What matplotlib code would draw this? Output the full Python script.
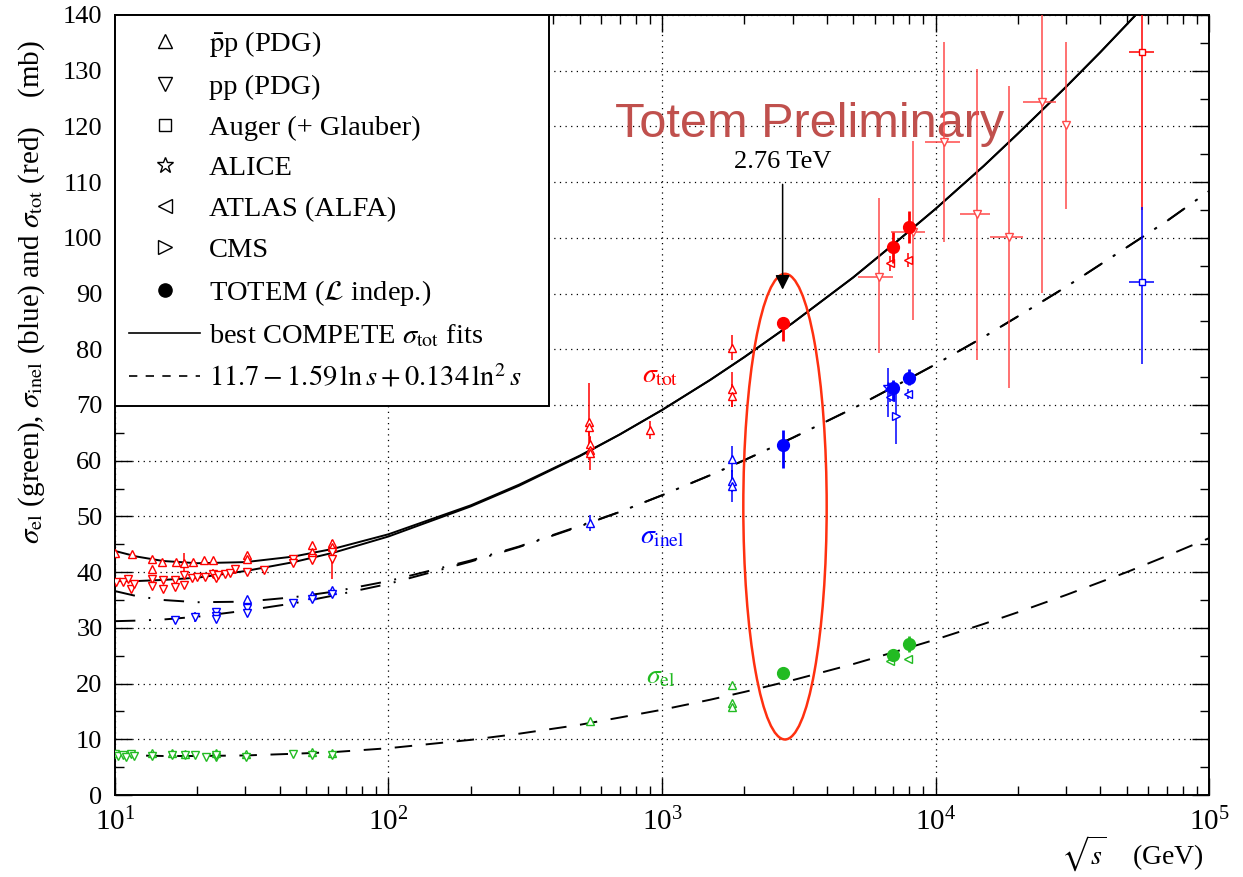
import matplotlib.pyplot as plt
from matplotlib.lines import Line2D
from matplotlib.patches import Ellipse
from matplotlib.ticker import MultipleLocator, LogLocator, LogFormatterMathtext, NullFormatter

plt.rcParams['font.family'] = ['Liberation Serif', 'DejaVu Serif']
plt.rcParams['mathtext.fontset'] = 'stix'

# colours
RED = '#ff0000'
LRED = '#ff4a4a'
BLUE = '#0000ff'
GREEN = '#22bb22'

# ---- fit curves ----
x_tot_fit = [10, 12, 15, 20, 30, 45, 63, 100, 200, 300, 500, 700, 1000, 1500, 2000,
             3000, 5000, 7000, 10000, 15000, 20000, 30000, 40000, 50000, 60000]
tot_fit_pbarp = [43.8, 42.8, 42.0, 41.6, 41.8, 42.8, 44.2, 46.8, 52.0, 55.7, 60.9, 64.7, 69.1, 74.5, 78.6,
                 84.7, 92.9, 98.8, 105.2, 112.9, 118.7, 127.1, 133.3, 138.3, 142.4]
tot_fit_pp = [38.4, 38.4, 38.6, 39.0, 40.2, 41.8, 43.5, 46.4, 51.8, 55.5, 60.8, 64.7, 69.1, 74.5, 78.6,
              84.7, 92.9, 98.8, 105.2, 112.9, 118.7, 127.1, 133.3, 138.3, 142.4]

x_fit = [10, 12, 15, 20, 30, 45, 63, 100, 200, 300, 500, 700, 1000, 1500, 2000,
         3000, 5000, 7000, 10000, 15000, 20000, 30000, 50000, 70000, 100000]
inel_fit_pbarp = [36.6, 35.7, 35.0, 34.6, 34.7, 35.5, 36.5, 38.4, 42.1, 44.6, 48.3, 50.8, 53.8, 57.4, 60.1,
                  64.1, 69.4, 73.2, 77.3, 82.2, 85.9, 91.2, 98.3, 103.0, 108.4]
inel_fit_pp = [31.2, 31.3, 31.5, 32.0, 33.1, 34.4, 35.8, 37.9, 41.9, 44.5, 48.2, 50.8, 53.8, 57.4, 60.1,
               64.1, 69.4, 73.2, 77.3, 82.2, 85.9, 91.2, 98.3, 103.0, 108.4]
el_fit = [7.2, 7.1, 7.0, 7.0, 7.1, 7.4, 7.7, 8.4, 9.9, 11.0, 12.6, 13.9, 15.3, 17.1, 18.5,
          20.6, 23.5, 25.6, 27.9, 30.7, 32.8, 35.9, 40.0, 42.9, 46.1]

# ---- PDG data ----
tot_pbarp_x = [10.0, 11.5, 13.7, 13.7, 14.9, 16.7, 17.9, 19.3, 21.2, 22.8, 30.4, 30.4, 52.5, 52.5, 62.4, 62.4,
               541, 541, 546, 546, 546, 900, 1800, 1800, 1800]
tot_pbarp_y = [43.5, 43.2, 42.4, 40.5, 41.9, 41.9, 41.7, 41.8, 42.1, 42.1, 43.0, 42.3, 44.9, 43.7, 45.3, 44.5,
               67.0, 66.0, 63.0, 62.0, 61.3, 65.5, 80.3, 72.8, 71.7]
tot_pbarp_err = [0.3, 0.3, 0.3, 0.4, 0.3, 0.3, 1.7, 0.3, 0.3, 0.3, 0.3, 0.3, 0.4, 0.4, 0.4, 0.4,
                 6.9, 1.5, 1.5, 1.5, 3.0, 1.6, 2.2, 3.1, 2.0]

tot_pp_x = [10.1, 10.7, 11.2, 11.4, 11.7, 13.6, 13.6, 15.0, 15.0, 16.6, 16.6, 17.9, 17.9, 19.2, 20.0,
            21.3, 22.9, 23.4, 23.9, 25.3, 26.3, 27.5, 30.4, 35.0, 44.6, 44.6, 52.5, 52.5, 62.4, 62.4]
tot_pp_y = [38.3, 38.3, 38.8, 36.9, 37.8, 38.7, 37.5, 38.6, 36.9, 38.6, 37.4, 39.5, 37.7, 38.9, 39.2,
            39.2, 39.7, 38.9, 39.5, 39.7, 39.8, 40.5, 40.1, 40.4, 42.3, 41.7, 42.5, 42.1, 43.7, 42.3]
tot_pp_err = [0.3, 0.3, 0.3, 0.5, 0.4, 0.4, 0.5, 0.3, 0.5, 0.3, 0.5, 0.6, 0.5, 0.3, 0.3,
              0.3, 0.8, 0.3, 0.3, 0.3, 0.3, 0.8, 0.3, 0.3, 0.3, 0.3, 0.3, 0.3, 0.3, 3.5]

inel_pbarp_x = [30.3, 52.5, 62.4, 546, 1800, 1800, 1800]
inel_pbarp_y = [35.1, 35.9, 36.8, 48.8, 60.3, 56.3, 55.5]
inel_pbarp_err = [0.3, 0.3, 0.3, 1.5, 2.4, 2.0, 2.9]

inel_pp_x = [16.6, 19.6, 23.5, 23.5, 23.5, 30.3, 30.3, 44.6, 52.5, 62.4]
inel_pp_y = [31.4, 31.9, 32.8, 32.2, 31.5, 33.5, 32.7, 34.4, 35.1, 36.1]
inel_pp_err = [0.3, 0.9, 0.4, 0.4, 0.4, 0.3, 0.3, 0.3, 0.3, 0.3]

el_pbarp_x = [13.6, 16.2, 18.1, 23.5, 30.1, 52.5, 62.4, 546, 1800, 1800, 1800]
el_pbarp_y = [7.5, 7.5, 7.3, 7.6, 7.4, 7.8, 7.6, 13.2, 19.7, 16.5, 15.8]

el_pp_x = [10.0, 10.3, 10.7, 11.0, 11.4, 11.7, 13.6, 16.2, 18.1, 19.6, 21.6, 23.5, 23.5, 30.1, 44.6, 52.5, 62.4]
el_pp_y = [7.3, 7.0, 7.2, 6.9, 7.3, 7.0, 7.0, 7.1, 7.1, 7.1, 6.8, 6.8, 7.2, 6.8, 7.4, 7.2, 7.2]

# ---- LHC ----
totem_x = [2760, 7000, 8000]
totem_tot = [84.7, 98.3, 102.0]
totem_tot_lo = [3.3, 2.8, 2.9]
totem_tot_hi = [0.8, 2.8, 2.9]
totem_inel = [62.9, 73.0, 74.8]
totem_inel_lo = [4.2, 2.1, 1.2]
totem_inel_hi = [2.6, 1.5, 1.6]
totem_el = [21.9, 25.1, 27.1]
totem_el_err = [1.1, 1.1, 1.4]

atlas_x = [6830, 7960]
atlas_tot = [95.4, 96.0]
atlas_inel = [71.4, 71.9]
atlas_el = [24.1, 24.4]

alice_x = [6700]
alice_inel = [73.3]
alice_lo = [5.4]
alice_hi = [3.3]

cms_x = [7180]
cms_inel = [68.0]
cms_lo = [5.0]
cms_hi = [5.3]

# ---- cosmic rays ----
cosmic_x = [6200, 8260, 10740, 14120, 18600, 24550, 30000]
cosmic_y = [93.0, 101.1, 117.2, 104.2, 100.2, 124.3, 120.2]
cosmic_xlo = [990, 1360, 1580, 1820, 2800, 3690, 0]
cosmic_xhi = [800, 890, 1560, 1680, 2260, 3050, 0]
cosmic_ylo = [13.7, 15.8, 17.9, 26.1, 27.2, 34.2, 15.1]
cosmic_yhi = [14.1, 16.2, 18.0, 26.1, 27.1, 34.0, 15.0]

auger_x = [57000]
auger_xlo = [6000]
auger_xhi = [5800]
auger_tot = [133.3]
auger_tot_lo = [28.3]
auger_tot_hi = [20.0]
auger_inel = [92.1]
auger_inel_lo = [14.8]
auger_inel_hi = [13.5]

fig = plt.figure(figsize=(12.43, 8.77), dpi=100)
ax = fig.add_axes([0.0925, 0.0935, 0.8802, 0.8894])

# fit curves
ax.plot(x_tot_fit, tot_fit_pbarp, color='black', lw=1.4)
ax.plot(x_tot_fit, tot_fit_pp, color='black', lw=1.4)
ax.plot(x_fit, inel_fit_pbarp, color='black', lw=1.4, dashes=(10.5, 7, 1, 7))
ax.plot(x_fit, inel_fit_pp, color='black', lw=1.4, dashes=(10.5, 7, 1, 7))
ax.plot(x_fit, el_fit, color='black', lw=1.4, dashes=(9, 7))

# open markers with error bars
def opn(x, y, yerr, mk, col, ms=5.5, xerr=None):
    ax.errorbar(x, y, yerr=yerr, xerr=xerr, fmt=mk, mfc='white', mec=col, ecolor=col,
                ms=ms, mew=1.0, elinewidth=1.1, capsize=0, zorder=4)

opn(tot_pbarp_x, tot_pbarp_y, tot_pbarp_err, '^', RED)
opn(tot_pp_x, tot_pp_y, tot_pp_err, 'v', RED)
opn(inel_pbarp_x, inel_pbarp_y, inel_pbarp_err, '^', BLUE)
opn(inel_pp_x, inel_pp_y, inel_pp_err, 'v', BLUE)
opn(el_pbarp_x, el_pbarp_y, None, '^', GREEN)
opn(el_pp_x, el_pp_y, None, 'v', GREEN)

opn(cosmic_x, cosmic_y, [cosmic_ylo, cosmic_yhi], 'v', LRED, xerr=[cosmic_xlo, cosmic_xhi])
opn(auger_x, auger_tot, [auger_tot_lo, auger_tot_hi], 's', RED, ms=4.5, xerr=[auger_xlo, auger_xhi])
opn(auger_x, auger_inel, [auger_inel_lo, auger_inel_hi], 's', BLUE, ms=4.5, xerr=[auger_xlo, auger_xhi])

opn(atlas_x, atlas_tot, 1.3, '<', RED)
opn(atlas_x, atlas_inel, 0.9, '<', BLUE)
opn(atlas_x, atlas_el, 0.4, '<', GREEN)
opn(alice_x, alice_inel, [alice_lo, alice_hi], '*', BLUE, ms=7)
opn(cms_x, cms_inel, [cms_lo, cms_hi], '>', BLUE)

# TOTEM filled points
ax.errorbar(totem_x, totem_tot, yerr=[totem_tot_lo, totem_tot_hi], fmt='o', color=RED, ms=8.5,
            elinewidth=2, capsize=0, zorder=5)
ax.errorbar(totem_x, totem_inel, yerr=[totem_inel_lo, totem_inel_hi], fmt='o', color=BLUE, ms=8.5,
            elinewidth=2, capsize=0, zorder=5)
ax.errorbar(totem_x, totem_el, yerr=totem_el_err, fmt='o', color=GREEN, ms=8.5, elinewidth=2, capsize=0, zorder=5)

# labels on curves
ax.text(984, 75.2, r'$\sigma_{\rm tot}$', color=RED, fontsize=20, ha='center', va='center')
ax.text(1000, 46.3, r'$\sigma_{\rm inel}$', color=BLUE, fontsize=20, ha='center', va='center')
ax.text(990, 21.2, r'$\sigma_{\rm el}$', color=GREEN, fontsize=20, ha='center', va='center')

# 2.76 TeV highlight
ax.add_patch(Ellipse((0.6124, 0.3697), 0.0762, 0.597, transform=ax.transAxes, fill=False,
                     edgecolor='#ff3010', lw=1.8, zorder=6))
ax.annotate('', xy=(2760, 90.2), xytext=(2760, 110.1),
            arrowprops=dict(arrowstyle='-|>', color='black', lw=1.1, mutation_scale=22), zorder=7)
ax.text(2760, 113.6, '2.76 TeV', fontsize=19, ha='center', va='center')
ax.text(673, 118.1, 'Totem Preliminary', fontsize=35, color='#c0504d', family='Liberation Sans',
        ha='left', va='baseline')

# axes
ax.set_xscale('log')
ax.set_xlim(10, 1e5)
ax.set_ylim(0, 140)
ax.yaxis.set_major_locator(MultipleLocator(10))
ax.yaxis.set_minor_locator(MultipleLocator(5))
ax.xaxis.set_major_locator(LogLocator(base=10))
ax.xaxis.set_minor_locator(LogLocator(base=10, subs=range(2, 10)))
ax.xaxis.set_major_formatter(LogFormatterMathtext())
ax.xaxis.set_minor_formatter(NullFormatter())
ax.tick_params(which='both', direction='in', top=True, right=True, width=1.0)
ax.tick_params(which='major', length=12.5)
ax.tick_params(which='minor', length=6.5)
ax.tick_params(axis='y', labelsize=19, pad=9)
ax.tick_params(axis='x', labelsize=21, pad=9)
for sp in ax.spines.values():
    sp.set_linewidth(1.4)
ax.grid(True, which='major', color='black', lw=0.9, linestyle=(0, (1, 3.5)))

ax.set_ylabel(r'$\sigma_{\rm el}$ (green), $\sigma_{\rm inel}$ (blue) and $\sigma_{\rm tot}$ (red)    (mb)',
              fontsize=21, loc='top')
ax.yaxis.set_label_coords(-0.062, 0.968)
ax.set_xlabel(r'$\sqrt{s}$    (GeV)', fontsize=20, loc='right')
ax.xaxis.set_label_coords(0.995, -0.05)

# legend
handles = [
    Line2D([], [], ls='none', marker='^', mfc='none', mec='black', ms=10, mew=1),
    Line2D([], [], ls='none', marker='v', mfc='none', mec='black', ms=10, mew=1),
    Line2D([], [], ls='none', marker='s', mfc='none', mec='black', ms=8.5, mew=1),
    Line2D([], [], ls='none', marker='*', mfc='none', mec='black', ms=12, mew=1),
    Line2D([], [], ls='none', marker='<', mfc='none', mec='black', ms=10, mew=1),
    Line2D([], [], ls='none', marker='>', mfc='none', mec='black', ms=10, mew=1),
    Line2D([], [], ls='none', marker='o', color='black', ms=9.5),
    Line2D([], [], color='black', lw=1.2),
    Line2D([], [], color='black', lw=1.2, dashes=(5, 5)),
]
labels = [
    r'$\bar{\rm p}$p (PDG)',
    'pp (PDG)',
    'Auger (+ Glauber)',
    'ALICE',
    'ATLAS (ALFA)',
    'CMS',
    r'TOTEM ($\mathcal{L}$ indep.)',
    r'best COMPETE $\sigma_{\rm tot}$ fits',
    r'$11.7 - 1.59\,\ln s + 0.134\,\ln^2 s$',
]
leg = ax.legend(handles, labels, loc='upper left', bbox_to_anchor=(0, 0, 0.397, 1), mode='expand',
                borderaxespad=0, fontsize=20.5, frameon=True, fancybox=False, framealpha=1,
                edgecolor='black', handlelength=2.5, handletextpad=0.3, labelspacing=0.52,
                borderpad=0.5)
leg.get_frame().set_linewidth(1.4)
leg.set_zorder(10)

fig.savefig('out.png', dpi=100)
